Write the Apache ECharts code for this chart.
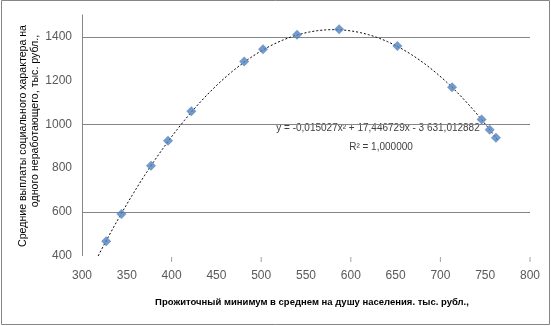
<!DOCTYPE html>
<html>
<head>
<meta charset="utf-8">
<script src="https://cdn.jsdelivr.net/npm/echarts@6/dist/echarts.min.js"></script>
<style>
  html, body { margin: 0; padding: 0; background: #fff; }
  #chart { width: 551px; height: 326px; }
</style>
</head>
<body>
<div id="chart"></div>
<script>
// Subsistence minimum per capita (x) vs. average social payments (y)
const subsistenceMin = [327, 344, 377, 396, 422, 481, 502, 540, 587, 652, 713, 746, 755, 762];
const socialPayments = [465, 590, 810, 925, 1060, 1287, 1343, 1410, 1435, 1358, 1170, 1022, 975, 938];

// Polynomial trendline coefficients (as printed on the chart)
const trendA = -0.015027;
const trendB = 17.446729;
const trendC = -3631.012882;
const trendFrom = 316;
const trendTo = 765;

const xTicks = [300, 350, 400, 450, 500, 550, 600, 650, 700, 750, 800];
const xTickMarks = [400, 500, 600, 700, 800];
const yTicks = [400, 600, 800, 1000, 1200, 1400];

const equationText = 'y = -0,015027x² + 17,446729x - 3 631,012882';
const r2Text = 'R² = 1,000000';
const xTitle = 'Прожиточный минимум в среднем на душу населения. тыс. рубл.,';
const yTitle1 = 'Средние выплаты социального характера на';
const yTitle2 = 'одного неработающего, тыс. рубл.,';

const trendPoints = [];
for (let x = trendFrom; x <= trendTo; x += 1) {
  trendPoints.push([x, trendA * x * x + trendB * x + trendC]);
}

const chart = echarts.init(document.getElementById('chart'), null, { renderer: 'canvas' });
const labelFont = { fontFamily: 'Liberation Sans Narrow, Arial Narrow, sans-serif', fontSize: 12, color: '#595959' };

chart.setOption({
  animation: false,
  backgroundColor: '#fff',
  grid: { left: 82, right: 21, top: 15, bottom: 70.5 },
  xAxis: {
    type: 'value', min: xTicks[0], max: xTicks[xTicks.length - 1], interval: 50,
    axisLine: { show: false },
    axisTick: { show: false },
    splitLine: { show: false },
    axisLabel: Object.assign({ margin: 14, formatter: v => String(v) }, labelFont)
  },
  yAxis: {
    type: 'value', min: yTicks[0], max: 1500, interval: 200,
    axisLine: { show: true, lineStyle: { color: '#868686' } },
    axisTick: { show: false },
    axisLabel: Object.assign({ margin: 10, showMaxLabel: false, formatter: v => String(v) }, labelFont),
    splitLine: { show: true, lineStyle: { color: ['transparent', '#868686'], width: 1 } }
  },
  series: [{
    // short tick marks hanging below the plot every 100 units
    type: 'scatter',
    data: xTickMarks.map(v => [v, yTicks[0]]),
    symbol: 'rect',
    symbolSize: [1, 5],
    symbolOffset: [0, 4],
    clip: false,
    silent: true,
    itemStyle: { color: '#8a8a8a' },
    z: 5
  }, {
    type: 'line',
    data: trendPoints,
    showSymbol: false,
    clip: true,
    lineStyle: { color: '#000', width: 1, type: [2, 2] },
    z: 2
  }, {
    type: 'scatter',
    data: subsistenceMin.map((x, i) => [x, socialPayments[i]]),
    symbol: 'diamond',
    symbolSize: 10,
    itemStyle: { color: '#4F81BD' },
    z: 3
  }],
  graphic: [
    { type: 'rect', shape: { x: 1.5, y: 0.5, width: 548, height: 324 }, style: { fill: 'none', stroke: '#868686', lineWidth: 1 }, silent: true },
    { type: 'text', x: 378, y: 128, style: { text: equationText, font: '10px Liberation Sans Narrow, sans-serif', fill: '#404040', textAlign: 'center', textVerticalAlign: 'middle' } },
    { type: 'text', x: 381, y: 147, style: { text: r2Text, font: '10px Liberation Sans Narrow, sans-serif', fill: '#404040', textAlign: 'center', textVerticalAlign: 'middle' } },
    { type: 'text', x: 312, y: 302, style: { text: xTitle, font: 'bold 9.5px Liberation Sans Narrow, sans-serif', fill: '#000', textAlign: 'center', textVerticalAlign: 'middle' } },
    { type: 'text', x: 23, y: 136, rotation: Math.PI / 2, style: { text: yTitle1, font: '10.6px Liberation Sans, sans-serif', fill: '#000', textAlign: 'center', textVerticalAlign: 'middle' } },
    { type: 'text', x: 35, y: 121, rotation: Math.PI / 2, style: { text: yTitle2, font: '10.6px Liberation Sans, sans-serif', fill: '#000', textAlign: 'center', textVerticalAlign: 'middle' } }
  ]
});
</script>
</body>
</html>
